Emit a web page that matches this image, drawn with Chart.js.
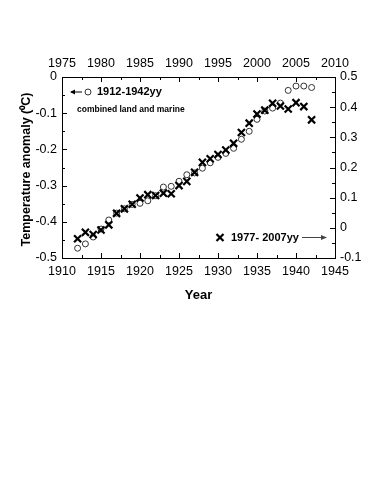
<!DOCTYPE html>
<html>
<head>
<meta charset="utf-8">
<script src="https://cdn.jsdelivr.net/npm/chart.js@4.4.1/dist/chart.umd.min.js"></script>
<style>
  html, body { margin: 0; padding: 0; background: #fff; }
  canvas { display: block; }
</style>
</head>
<body>
<canvas id="chart" width="374" height="489"></canvas>
<script>
// 1912-1942 series (bottom / left axes)
const earlyYears = [1912, 1913, 1914, 1915, 1916, 1917, 1918, 1919, 1920, 1921, 1922,
  1923, 1924, 1925, 1926, 1927, 1928, 1929, 1930, 1931, 1932, 1933, 1934, 1935, 1936,
  1937, 1938, 1939, 1940, 1941, 1942];
const earlyValues = [-0.473, -0.461, -0.442, -0.420, -0.395, -0.376, -0.364, -0.352,
  -0.349, -0.342, -0.328, -0.304, -0.302, -0.288, -0.270, -0.265, -0.252, -0.237,
  -0.222, -0.211, -0.197, -0.172, -0.150, -0.117, -0.094, -0.086, -0.072, -0.037,
  -0.025, -0.025, -0.029];

// 1977-2007 series (top / right axes)
const lateYears = [1977, 1978, 1979, 1980, 1981, 1982, 1983, 1984, 1985, 1986, 1987,
  1988, 1989, 1990, 1991, 1992, 1993, 1994, 1995, 1996, 1997, 1998, 1999, 2000, 2001,
  2002, 2003, 2004, 2005, 2006, 2007];
const lateValues = [-0.036, -0.015, -0.022, -0.007, 0.010, 0.048, 0.063, 0.078, 0.099,
  0.110, 0.107, 0.115, 0.113, 0.140, 0.154, 0.184, 0.217, 0.229, 0.243, 0.258, 0.280,
  0.316, 0.347, 0.377, 0.390, 0.413, 0.404, 0.394, 0.415, 0.402, 0.358];

const tickFont = { family: "'Liberation Sans', Arial, sans-serif", size: 12.5 };

// inward tick marks, titles and the in-plot notes
const decorations = {
  id: "decorations",
  afterDraw(chart) {
    const ctx = chart.ctx;
    const { x, y, x2, y2 } = chart.scales;
    const area = chart.chartArea;
    ctx.save();
    ctx.strokeStyle = "#000";
    ctx.lineWidth = 1;

    const tick = (x0, y0, x1, y1) => {
      ctx.beginPath();
      ctx.moveTo(x0, y0);
      ctx.lineTo(x1, y1);
      ctx.stroke();
    };
    for (let v = 1910; v <= 1945; v += 2.5) {
      const p = Math.round(x.getPixelForValue(v)) + 0.5;
      tick(p, area.bottom, p, area.bottom - (v % 5 === 0 ? 5 : 3));
    }
    for (let v = 1975; v <= 2010; v += 2.5) {
      const p = Math.round(x2.getPixelForValue(v)) + 0.5;
      tick(p, area.top, p, area.top + (v % 5 === 0 ? 5 : 3));
    }
    for (let i = 0; i <= 10; i++) {
      const v = -0.5 + i * 0.05;
      const p = Math.round(y.getPixelForValue(v)) + 0.5;
      tick(area.left, p, area.left + (i % 2 === 0 ? 5 : 3), p);
    }
    for (let i = 0; i <= 12; i++) {
      const v = -0.1 + i * 0.05;
      const p = Math.round(y2.getPixelForValue(v)) + 0.5;
      tick(area.right, p, area.right - (i % 2 === 0 ? 5 : 3), p);
    }

    ctx.fillStyle = "#000";
    ctx.textBaseline = "middle";

    // axis titles
    ctx.font = "bold 13px 'Liberation Sans', Arial, sans-serif";
    ctx.textAlign = "center";
    ctx.fillText("Year", (area.left + area.right) / 2, area.bottom + 37);
    ctx.save();
    ctx.translate(area.left - 35, (area.top + area.bottom) / 2 + 2);
    ctx.rotate(-Math.PI / 2);
    ctx.font = "bold 12.5px 'Liberation Sans', Arial, sans-serif";
    ctx.fillText("Temperature anomaly (\u2070C)", 0, 0);
    ctx.restore();

    // top-left note
    const ny = area.top + 15;
    tick(area.left + 9, ny, area.left + 20, ny);
    ctx.beginPath();
    ctx.moveTo(area.left + 8, ny);
    ctx.lineTo(area.left + 13, ny - 2.5);
    ctx.lineTo(area.left + 13, ny + 2.5);
    ctx.closePath();
    ctx.fill();
    ctx.beginPath();
    ctx.strokeStyle = "#333";
    ctx.arc(area.left + 26, ny, 3, 0, Math.PI * 2);
    ctx.stroke();
    ctx.textAlign = "left";
    ctx.font = "bold 11px 'Liberation Sans', Arial, sans-serif";
    ctx.fillText("1912-1942yy", area.left + 35, ny);
    ctx.font = "bold 8.5px 'Liberation Sans', Arial, sans-serif";
    ctx.fillText("combined land and marine", area.left + 15, ny + 18);

    // bottom-right note
    const by = area.bottom - 20.5;
    const cx = area.left + 158;
    ctx.strokeStyle = "#000";
    ctx.lineWidth = 2.2;
    tick(cx - 3.5, by - 3.5, cx + 3.5, by + 3.5);
    tick(cx - 3.5, by + 3.5, cx + 3.5, by - 3.5);
    ctx.font = "bold 11px 'Liberation Sans', Arial, sans-serif";
    ctx.fillText("1977- 2007yy", cx + 11, by);
    ctx.lineWidth = 1;
    ctx.strokeStyle = "#444";
    ctx.fillStyle = "#444";
    tick(area.left + 240, by, area.left + 260, by);
    ctx.beginPath();
    ctx.moveTo(area.left + 265, by);
    ctx.lineTo(area.left + 259, by - 2.5);
    ctx.lineTo(area.left + 259, by + 2.5);
    ctx.closePath();
    ctx.fill();
    ctx.restore();
  }
};

const plainNumber = (v) => String(Math.round(v * 10) / 10);

const axisBase = {
  type: "linear",
  grid: { display: false, drawTicks: false },
  border: { display: true, color: "#000", width: 1 },
  ticks: { color: "#000", font: tickFont, padding: 5, callback: plainNumber }
};

new Chart(document.getElementById("chart"), {
  type: "scatter",
  data: {
    datasets: [
      {
        label: "1977-2007yy",
        data: lateYears.map((yr, i) => ({ x: yr, y: lateValues[i] })),
        xAxisID: "x2",
        yAxisID: "y2",
        pointStyle: "crossRot",
        pointRadius: 5,
        borderWidth: 2.2,
        borderColor: "#000",
        backgroundColor: "#000",
        order: 0
      },
      {
        label: "1912-1942yy",
        data: earlyYears.map((yr, i) => ({ x: yr, y: earlyValues[i] })),
        xAxisID: "x",
        yAxisID: "y",
        pointStyle: "circle",
        pointRadius: 3,
        borderWidth: 1,
        borderColor: "#333",
        backgroundColor: "rgba(255,255,255,0)",
        order: 1
      }
    ]
  },
  options: {
    responsive: false,
    animation: false,
    layout: { padding: 0 },
    plugins: { legend: { display: false }, tooltip: { enabled: false } },
    scales: {
      x: {
        ...axisBase, position: "bottom", min: 1910, max: 1945,
        ticks: { ...axisBase.ticks, stepSize: 5, padding: 6, maxRotation: 0 },
        afterFit: (s) => { s.height = 231; }
      },
      x2: {
        ...axisBase, position: "top", min: 1975, max: 2010,
        ticks: { ...axisBase.ticks, stepSize: 5, padding: 6, maxRotation: 0 },
        afterFit: (s) => { s.height = 77; }
      },
      y: {
        ...axisBase, position: "left", min: -0.5, max: 0,
        ticks: { ...axisBase.ticks, stepSize: 0.1 },
        afterFit: (s) => { s.width = 62; }
      },
      y2: {
        ...axisBase, position: "right", min: -0.1, max: 0.5,
        ticks: { ...axisBase.ticks, stepSize: 0.1 },
        afterFit: (s) => { s.width = 39; }
      }
    }
  },
  plugins: [decorations]
});
</script>
</body>
</html>
